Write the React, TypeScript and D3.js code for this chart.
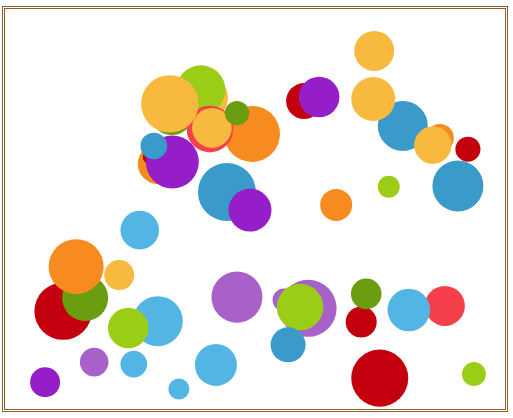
import React from "react";
import * as d3 from "d3";

// bubble values, listed back to front (draw order)
const xValues = [
  40.1, 39.3, 33.5, 49.5, 41.1, 33.1, 41.5, 46.5, 30.7, 29.1, 33.6, 29.9, 44.5, 49.1,
  73.9, 59.9, 62.9, 79.6, 73.7, 87.0, 85.6, 92.6, 90.6, 76.8, 66.3, 27.1,
  11.8, 16.2, 14.4, 23.0, 30.7, 24.8, 46.5, 18.0, 25.9, 42.3, 34.9, 8.2,
  55.9, 60.7, 59.1, 56.7, 71.3, 72.3, 88.0, 80.8, 75.0, 93.8,
];
const yValues = [
  77.6, 79.6, 73.8, 68.6, 69.8, 76.1, 70.1, 73.8, 61.1, 62.8, 61.6, 65.6, 54.1, 49.6,
  89.3, 76.8, 77.8, 70.6, 77.3, 67.6, 65.8, 64.8, 55.6, 55.4, 50.9, 44.6,
  24.4, 27.7, 35.5, 33.4, 21.9, 20.2, 27.9, 11.7, 11.2, 11.0, 5.0, 6.7,
  27.2, 25.1, 25.4, 16.0, 21.7, 28.7, 25.7, 24.7, 7.7, 8.7,
];
const sizes = [
  58.8, 66.7, 53.8, 87.1, 60.3, 91.5, 43.6, 16.5, 44.4, 5.4, 78.0, 19.7, 93.4, 51.4,
  44.4, 36.0, 45.8, 69.4, 53.8, 21.8, 38.9, 17.4, 72.3, 13.4, 28.4, 41.4,
  91.5, 58.8, 84.0, 25.0, 69.4, 45.8, 72.3, 22.7, 19.7, 49.0, 12.3, 25.0,
  14.7, 90.3, 60.3, 34.0, 26.7, 26.0, 44.4, 50.4, 90.3, 16.0,
];
const groups = [
  "yellow", "lime", "darkGreen", "orange", "lightRed", "yellow", "yellow", "darkGreen",
  "orange", "darkRed", "purple", "blue", "blue", "purple",
  "yellow", "darkRed", "purple", "blue", "yellow", "orange", "yellow", "darkRed",
  "blue", "lime", "orange", "lightBlue",
  "darkRed", "darkGreen", "orange", "yellow", "lightBlue", "lime", "lavender", "lavender",
  "lightBlue", "lightBlue", "lightBlue", "purple",
  "lavender", "lavender", "lime", "blue", "darkRed", "darkGreen", "lightRed", "lightBlue",
  "darkRed", "lime",
];

const groupNames = [
  "darkRed", "lightRed", "orange", "yellow", "lime", "darkGreen", "purple", "lavender", "blue", "lightBlue",
];
const groupColors = [
  "#c4000f", "#f5404b", "#f78b1f", "#f8ba3e", "#9bcd17", "#6a9e10", "#961ec9", "#a761c9", "#3a9aca", "#52b5e4",
];

const width = 513;
const height = 418;
const plot = { left: 4, right: 505, top: 8, bottom: 409 };

export default function App() {
  const x = d3.scaleLinear().domain([0, 100]).range([plot.left, plot.right]);
  const y = d3.scaleLinear().domain([0, 100]).range([plot.bottom, plot.top]);
  const r = d3.scaleSqrt().domain([0, 100]).range([0, 30]);
  const color = d3.scaleOrdinal<string, string>().domain(groupNames).range(groupColors);

  const data = xValues.map((v, i) => ({ x: v, y: yValues[i], size: sizes[i], group: groups[i] }));

  return (
    <svg
      width={width}
      height={height}
      style={{ position: "absolute", left: 0, top: 0, background: "#fff" }}
    >
      {/* double frame */}
      <rect x={2.5} y={6.5} width={505} height={405} fill="none" stroke="#8b5e2f" strokeWidth={1} />
      <rect x={4.5} y={8.5} width={501} height={401} fill="none" stroke="#8b5e2f" strokeWidth={1} />
      <g>
        {data.map((d, i) => (
          <circle key={i} cx={x(d.x)} cy={y(d.y)} r={r(d.size)} fill={color(d.group)} />
        ))}
      </g>
    </svg>
  );
}
